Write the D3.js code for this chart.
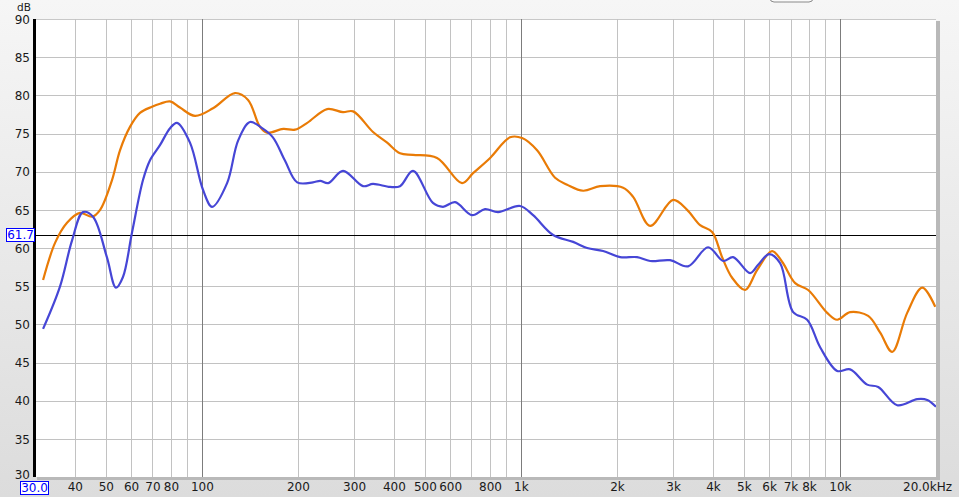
<!DOCTYPE html>
<html><head><meta charset="utf-8">
<script src="https://cdn.jsdelivr.net/npm/d3@7"></script>
<style>
html,body{margin:0;padding:0;background:#e4e4e4;}
svg{display:block;}
text{font-family:"DejaVu Sans",sans-serif;}
</style></head>
<body>
<svg id="chart" width="959" height="497"></svg>
<script>
// ---- data ----
const orangeFreq = [31.8,34.7,37.8,41.5,45.3,48.0,52.3,55.4,59.6,64.0,69.8,74.0,79.5,85.4,95.2,108.4,127,139.6,152,160,180,196,214,247,277,298,344,381,418,459,546,654,708,801,925,1009,1124,1280,1396,1567,1771,2091,2248,2542,3000,3318,3645,3975,4272,4593,5046,5499,6129,6588,7239,7950,9120,9801,10764,12258,13368,14580,16245,18108,19887];
const orangeDb   = [55.8,60.7,63.3,64.6,64.1,65.0,68.9,72.8,75.9,77.7,78.5,78.9,79.2,78.4,77.3,78.3,80.3,79.4,75.9,75.1,75.6,75.5,76.4,78.2,77.8,77.9,75.2,73.8,72.4,72.2,71.8,68.5,69.8,71.8,74.5,74.4,72.8,69.2,68.3,67.5,68.1,67.9,66.7,62.9,66.3,65.0,63.0,62.1,58.8,56.1,54.5,57.1,59.6,58.2,55.4,54.5,51.5,50.6,51.6,51.1,48.9,46.4,51.5,54.8,52.3];
const blueFreq = [31.8,35.9,39.2,42.4,45.6,50.4,53.8,56.6,60.4,65.4,68.8,74.0,79.5,83.6,91.8,100.9,107.7,120,130,141.6,154.5,167,182,199,223,235,249,277,320,344,389,418,459,530,570,622,703,772,848,994,1092,1262,1458,1613,1810,2047,2313,2542,2936,3342,3861,4305,4626,5229,5541,5997,6495,7134,7893,8667,9801,10764,12171,13176,15117,17466,18771,20000];
const blueDb   = [49.4,54.9,61.0,64.7,64.1,58.8,54.8,56.2,62.0,68.9,71.5,73.5,75.7,76.4,73.8,67.6,65.4,68.5,74.1,76.5,75.7,74.5,71.5,68.6,68.6,68.8,68.5,70.1,68.1,68.4,68.0,68.1,70.1,65.9,65.4,66.0,64.3,65.1,64.7,65.5,64.3,61.7,60.8,60.0,59.6,58.8,58.8,58.3,58.4,57.6,60.1,58.3,58.8,56.7,57.8,59.2,58.0,51.6,50.6,47.0,43.9,44.1,42.1,41.8,39.4,40.2,40.1,39.2];
const xTickValues = [40,50,60,70,80,100,200,300,400,500,600,800,1000,2000,3000,4000,5000,6000,7000,8000,10000];
const xTickLabels = ["40","50","60","70","80","100","200","300","400","500","600","800","1k","2k","3k","4k","5k","6k","7k","8k","10k"];
const xGridValues = [40,50,60,70,80,90,100,200,300,400,500,600,700,800,900,1000,2000,3000,4000,5000,6000,7000,8000,9000,10000];
const decadeValues = [100,1000,10000];
const yTickValues = [30,35,40,45,50,55,60,65,70,75,80,85,90];
const markerDb = 61.7;
const xStartLabel = "30.0";
const xEndLabel = "20.0kHz";
const yUnit = "dB";

// ---- layout ----
const L = 35, R = 936, T = 19, B = 477;
const svg = d3.select("#chart");
const x = d3.scaleLog().domain([30, 20000]).range([L, R]);
const y = d3.scaleLinear().domain([30, 90]).range([B, T]);

const defs = svg.append("defs");
const bg = defs.append("linearGradient").attr("id","bg").attr("x1",0).attr("y1",0).attr("x2",0).attr("y2",1);
bg.append("stop").attr("offset","0%").attr("stop-color","#f6f6f6");
bg.append("stop").attr("offset","100%").attr("stop-color","#dcdcdc");
svg.append("rect").attr("width",959).attr("height",497).attr("fill","url(#bg)");

// top button stub
svg.append("rect").attr("x",770).attr("y",-10).attr("width",43).attr("height",12).attr("rx",4)
  .attr("fill","#fafafa").attr("stroke","#8a8a8a");

// plot shadow
svg.append("rect").attr("x",L+2).attr("y",T+2).attr("width",R-L+2).attr("height",B-T+1).attr("fill","#b9b9b9");
svg.append("rect").attr("x",L).attr("y",T).attr("width",R-L).attr("height",B-T).attr("fill","#ffffff");
svg.append("rect").attr("x",L).attr("y",T).attr("width",R-L).attr("height",1).attr("fill","#c8c8c8");

// grid
const g = svg.append("g");
g.selectAll("line.h").data(yTickValues.slice(1,-1)).join("line")
  .attr("x1",L).attr("x2",R).attr("y1",d=>Math.round(y(d))+0.5).attr("y2",d=>Math.round(y(d))+0.5)
  .attr("stroke","#c2c2c2").attr("stroke-width",1);
g.selectAll("line.v").data(xGridValues).join("line")
  .attr("x1",d=>Math.round(x(d))+0.5).attr("x2",d=>Math.round(x(d))+0.5).attr("y1",T).attr("y2",B)
  .attr("stroke",d=>decadeValues.includes(d)?"#7c7c7c":"#c2c2c2").attr("stroke-width",1);

// left thick border
svg.append("rect").attr("x",L-2).attr("y",T).attr("width",3).attr("height",B-T).attr("fill","#000");

// marker line
svg.append("line").attr("x1",L).attr("x2",R).attr("y1",Math.round(y(markerDb))+0.5).attr("y2",Math.round(y(markerDb))+0.5)
  .attr("stroke","#000").attr("stroke-width",1);

// curves
const line = d3.line().x(d=>x(d[0])).y(d=>y(d[1])).curve(d3.curveCatmullRom.alpha(0.5));
const orange = orangeFreq.map((f,i)=>[f,orangeDb[i]]);
const blue = blueFreq.map((f,i)=>[f,blueDb[i]]);
const clip = defs.append("clipPath").attr("id","clip");
clip.append("rect").attr("x",L).attr("y",T).attr("width",R-L).attr("height",B-T);
const cg = svg.append("g").attr("clip-path","url(#clip)");
cg.append("path").datum(orange).attr("d",line).attr("fill","none").attr("stroke","#e97b06").attr("stroke-width",2.2);
cg.append("path").datum(blue).attr("d",line).attr("fill","none").attr("stroke","#4646d6").attr("stroke-width",2.2);

// y axis labels
const yAxis = d3.axisLeft(y).tickValues(yTickValues).tickSize(0).tickPadding(0).tickFormat(d=>String(d));
const ya = svg.append("g").attr("transform",`translate(${L-5},0)`).call(yAxis);
ya.select(".domain").remove();
ya.selectAll("text").attr("font-family","DejaVu Sans").attr("font-size",12).attr("fill","#1a1a1a").attr("x",0)
  .attr("dy",d=>d===30?"0.15em":"0.36em");
svg.append("text").attr("x",17).attr("y",11).attr("font-size",10.5).attr("fill","#1a1a1a").text(yUnit);

// x axis labels
const xAxis = d3.axisBottom(x).tickValues(xTickValues).tickSize(0).tickPadding(0)
  .tickFormat(d=>xTickLabels[xTickValues.indexOf(d)]);
const xa = svg.append("g").attr("transform",`translate(0,${B})`).call(xAxis);
xa.select(".domain").remove();
xa.selectAll("text").attr("font-family","DejaVu Sans").attr("font-size",12).attr("fill","#1a1a1a").attr("y",14).attr("dy",0);
svg.append("text").attr("x",952).attr("y",491).attr("text-anchor","end").attr("font-size",12).attr("fill","#1a1a1a").text(xEndLabel);

// blue boxed readouts
function boxLabel(cx, cy, w, h, txt){
  svg.append("rect").attr("x",cx).attr("y",cy).attr("width",w).attr("height",h).attr("fill","#fff").attr("stroke","#0000ff").attr("stroke-width",1);
  svg.append("text").attr("x",cx+w/2).attr("y",cy+h/2).attr("dy","0.36em").attr("text-anchor","middle")
    .attr("font-size",12).attr("fill","#0000ff").text(txt);
}
boxLabel(6.5, Math.round(y(markerDb))-6.5, 28, 13, String(markerDb));
boxLabel(20.5, 481.5, 28, 13, xStartLabel);
</script>
</body></html>
